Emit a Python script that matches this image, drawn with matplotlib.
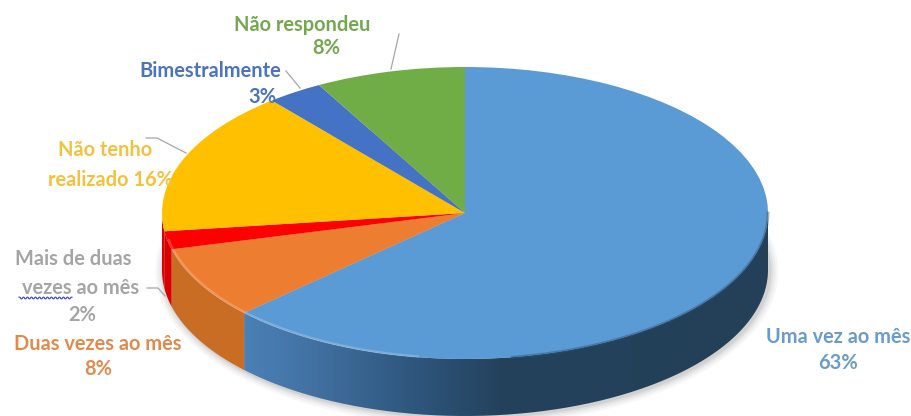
#!/usr/bin/env python3
"""
Frequency survey - 3D style pie chart with labels around it
"""

import numpy as np
import matplotlib
matplotlib.use("Agg")
import matplotlib.pyplot as plt
from matplotlib.colors import LinearSegmentedColormap
from matplotlib.patches import Ellipse, PathPatch, Polygon
from matplotlib.path import Path

# survey shares, clockwise from 12 o'clock
shares = [63, 8, 2, 16, 3, 8]
categories = ["Uma vez ao mês", "Duas vezes ao mês", "Mais de duas vezes ao mês",
              "Não tenho realizado", "Bimestralmente", "Não respondeu"]
top_colors = ["#5b9bd5", "#ed7d31", "#ff0000", "#ffc000", "#4472c4", "#70ad47"]
text_colors = ["#6a9bcb", "#e08a4e", "#a5a5a5", "#f2c23e", "#4a74c0", "#74a84f"]
wall_colors = ["#234058", "#c96c24", "#d80000", "#d80000", "#2f5597", "#507e32"]

# pie geometry in pixels
CX, CY = 465, 213
RX, RY = 303, 146
DEPTH = 57
W, H = 912, 416

# big slice side wall fades to dark navy going right
wall_fade = LinearSegmentedColormap.from_list(
    "wall_fade",
    [(0.0, "#4a80b6"), (0.11, "#4474a6"), (0.22, "#386490"),
     (0.36, "#2c5276"), (0.49, "#24425c"), (1.0, "#234058")])


def wall_outline(a0, a1):
    """Closed outline of the rim between two angles, top edge then bottom edge"""
    depth = DEPTH / RY
    t = np.linspace(a0, a1, 300)
    top = np.column_stack([np.sin(t), np.cos(t)])
    bottom = np.column_stack([np.sin(t[::-1]), np.cos(t[::-1]) - depth])
    return np.vstack([top, bottom])


def draw_walls(ax):
    """Draw the front side of the pie under the top face"""
    edges = np.cumsum([0] + shares) / sum(shares) * 2 * np.pi
    for i in range(len(shares)):
        # only the part of the rim facing the viewer
        a0, a1 = max(edges[i], np.pi / 2), min(edges[i + 1], 3 * np.pi / 2)
        if a1 <= a0:
            continue
        outline = wall_outline(a0, a1)
        if i == 0:
            clip = PathPatch(Path(outline), transform=ax.transData, facecolor="none", edgecolor="none")
            ax.add_patch(clip)
            grad = np.linspace(0, 1, 512).reshape(1, -1)
            img = ax.imshow(grad, cmap=wall_fade, aspect="auto", zorder=2, interpolation="bilinear",
                            extent=(outline[:, 0].min(), 1, outline[:, 1].min(), outline[:, 1].max()))
            img.set_clip_path(clip)
        else:
            ax.add_patch(Polygon(outline, closed=True, facecolor=wall_colors[i],
                                 edgecolor="none", zorder=2))


fig = plt.figure(figsize=(W / 100, H / 100), dpi=100)
ax = fig.add_axes([0, 0, 1, 1])

wedges, _ = ax.pie(shares, colors=top_colors, startangle=90, counterclock=False,
                   radius=1, wedgeprops={"linewidth": 0, "zorder": 3})

# soft shadow below the pie
for grow, alpha in zip([0.028, 0.02, 0.012, 0.005], [0.04, 0.05, 0.07, 0.09]):
    ax.add_patch(Ellipse((0.006, -DEPTH / RY - 0.01), 2 + grow * 2, 2 + grow * 4,
                         facecolor="#404040", edgecolor="none", alpha=alpha, zorder=1))
draw_walls(ax)

# imshow resets the view, so the limits go after it
ax.set_aspect("auto")
ax.set_xlim(-CX / RX, (W - CX) / RX)
ax.set_ylim((CY - H) / RY, CY / RY)
ax.axis("off")

# light bevel along the left front rim, soft dark edge on the right
rim = np.linspace(np.pi * 1.05, np.pi * 1.44, 120)
ax.plot(0.995 * np.sin(rim), 0.995 * np.cos(rim), color="white", alpha=0.2, lw=1.8, zorder=4)
rim = np.linspace(np.pi * 0.5, np.pi * 0.95, 200)
ax.plot(np.sin(rim), np.cos(rim), color="#2a5478", alpha=0.45, lw=2.0, zorder=4)

# labels and leader lines are placed in pixel coordinates
over = fig.add_axes([0, 0, 1, 1], facecolor="none")
over.set_xlim(0, W)
over.set_ylim(H, 0)
over.axis("off")

label_lines = [
    ("Uma vez ao mês", 838, 337, 0), (f"{shares[0]}%", 838, 363, 0),
    ("Duas vezes ao mês", 98, 344, 1), (f"{shares[1]}%", 98, 369, 1),
    ("Mais de duas", 73, 259, 2), ("vezes ao mês", 81, 288, 2), (f"{shares[2]}%", 82, 315, 2),
    ("Não tenho", 105, 150, 3), (f"realizado {shares[3]}%", 111, 180, 3),
    ("Bimestralmente", 210, 71, 4), (f"{shares[4]}%", 262, 97, 4),
    ("Não respondeu", 302, 25, 5), (f"{shares[5]}%", 326, 48, 5),
]
for text, x, y, idx in label_lines:
    over.text(x, y, text, color=text_colors[idx], family="Lato", fontweight="bold",
              fontsize=14.4, ha="center", va="center", zorder=6)

leaders = [
    ([391, 399], [69, 34]),
    ([286, 300], [71, 88]),
    ([146, 157, 186], [138, 138, 153]),
    ([147, 158, 165], [288, 288, 296]),
]
for xs, ys in leaders:
    over.plot(xs, ys, color="#a6a6a6", lw=0.9, zorder=5)

# spell-check squiggle under "vezes"
sx = np.arange(19, 73, 1.0)
over.plot(sx, 298 + np.where(np.arange(sx.size) % 4 < 2, -0.8, 0.8), color="#3a3ad0", lw=0.8, zorder=6)

fig.savefig("out.png", dpi=100)
